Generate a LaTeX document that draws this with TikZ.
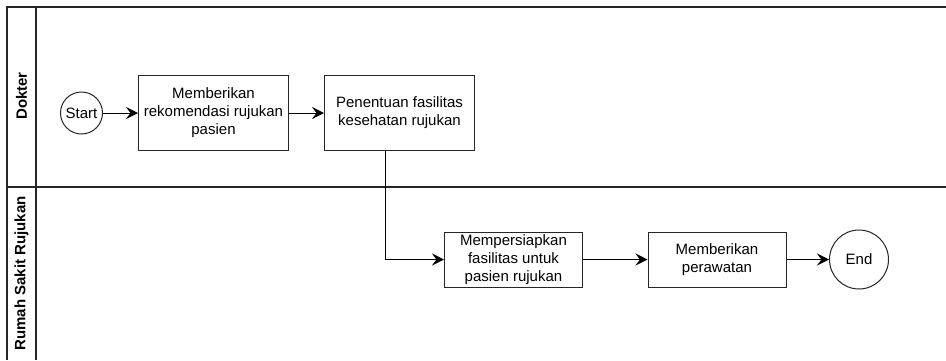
\documentclass[tikz,border=0pt]{standalone}
\usepackage{fontspec}
\setmainfont{Liberation Sans}
\usetikzlibrary{arrows.meta}

\begin{document}
\begin{tikzpicture}[
    x=1pt, y=-1pt,
    >={Stealth[length=12pt,width=12pt,inset=4.5pt]},
    every node/.style={font=\fontsize{15}{18}\selectfont},
    lane/.style={line width=1.2pt, draw=black!85},
    proc/.style={draw=black!85, line width=1pt, minimum width=150pt,
                 minimum height=75pt, align=center, inner sep=2pt},
    term/.style={draw=black!85, line width=1pt, circle, inner sep=0pt},
    flow/.style={->, line width=1pt, draw=black},
  ]
    \useasboundingbox (0,0) rectangle (946,360);

    % kolam dan jalur
    \draw[lane] (946,7) -- (7,7) -- (7,360);
    \draw[lane] (36,7) -- (36,360);
    \draw[lane] (7,187) -- (946,187);
    \node[rotate=90, font=\bfseries\fontsize{15}{18}\selectfont] (lnDokter) at (21.5,96) {Dokter};
    \node[rotate=90, font=\bfseries\fontsize{15}{18}\selectfont] (lnRS) at (21.5,273.5) {Rumah Sakit Rujukan};

    % jalur dokter
    \node[term, minimum size=42pt] (start) at (81.5,113) {Start};
    \node[proc] (recom) at (213.5,113) {Memberikan\\rekomendasi rujukan\\pasien};
    \node[proc] (tentu) at (399.5,113) {Penentuan fasilitas\\kesehatan rujukan};

    % jalur rumah sakit
    \node[proc, minimum width=138pt, minimum height=55pt] (siap) at (513.5,259.5)
        {Mempersiapkan\\fasilitas untuk\\pasien rujukan};
    \node[proc, minimum width=138pt, minimum height=55pt] (rawat) at (717,259.5)
        {Memberikan\\perawatan};
    \node[term, minimum size=59pt] (finish) at (859,259.5) {End};

    % panah
    \draw[flow] (start) -- (recom);
    \draw[flow] (recom) -- (tentu);
    \draw[flow] ([xshift=-14.5pt]tentu.south) |- (siap.west);
    \draw[flow] (siap) -- (rawat);
    \draw[flow] (rawat) -- (finish);
\end{tikzpicture}
\end{document}
